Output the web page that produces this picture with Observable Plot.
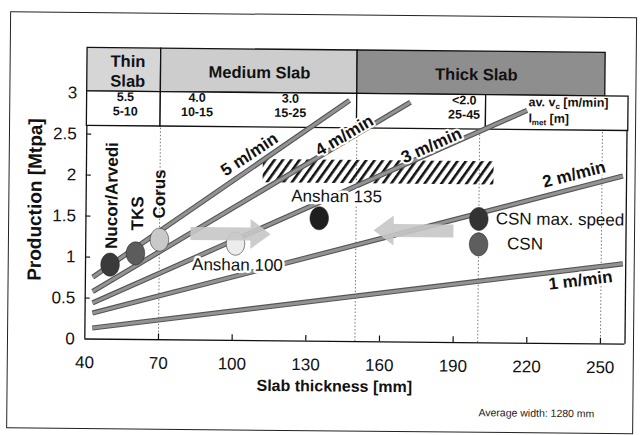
<!DOCTYPE html>
<html><head><meta charset="utf-8">
<script src="https://cdn.jsdelivr.net/npm/d3@7"></script>
<script src="https://cdn.jsdelivr.net/npm/@observablehq/plot@0.6"></script>
<style>
html,body{margin:0;padding:0;background:#fff;overflow:hidden;width:641px;height:435px}
#wrap{position:absolute;left:0;top:0;width:641px;height:435px;transform:rotate(0.55deg);transform-origin:84.3px 338.5px}
#chart{position:absolute;left:0;top:0}
#border{position:absolute;left:7px;top:12px;width:627px;height:417px;border:1.5px solid #222;box-sizing:border-box;pointer-events:none}
</style></head><body>
<div id="wrap"><div id="chart"></div><div id="border"></div></div>
<script>
// ---------- data ----------
const thicknessTicks = [40, 70, 100, 130, 160, 190, 220, 250];
const productionTicks = [0, 0.5, 1, 1.5, 2, 2.5, 3];

const speedLabels = ["5 m/min", "4 m/min", "3 m/min", "2 m/min", "1 m/min"];
const speedStartThickness = [43, 43, 43, 43, 43];
const speedStartProduction = [0.755, 0.58, 0.44, 0.317, 0.135];
const speedEndThickness = [146.9, 171.7, 219.2, 258.5, 258.8];
const speedEndProduction = [2.94, 2.926, 2.84, 2.05, 0.98];
const speedLabelThickness = [106.3, 144.9, 180.4, 238.6, 241.6];
const speedLabelProduction = [2.27, 2.512, 2.40, 2.063, 0.772];
const speedLabelAngle = [-34, -31, -24.5, -15, -7.5];

const plantNames = ["Nucor/Arvedi", "TKS", "Corus", "Anshan 100", "Anshan 135", "CSN max. speed", "CSN"];
const plantThickness = [50, 60.3, 70, 101, 135, 200, 200];
const plantProduction = [0.91, 1.05, 1.22, 1.18, 1.50, 1.51, 1.20];
const plantLabelThickness = [50.5, 61.1, 69.9, 101.9, 142, 206.9, 211.6];
const plantLabelProduction = [1.102, 1.33, 1.478, 0.92, 1.767, 1.513, 1.21];

const categoryNames = ["Thin\nSlab", "Medium Slab", "Thick Slab"];
const categoryFrom = [40, 70, 150];
const categoryTo = [70, 150, 251];
const categoryLabelThickness = [56.5, 110.1, 198.4];
const headerBottom = 3.02, headerTop = 3.55, rowBottom = 2.6;

const castingSpeeds = ["5.5", "4.0", "3.0", "<2.0"];
const metLengths = ["5-10", "10-15", "15-25", "25-45"];
const specThickness = [55.6, 84.8, 122.8, 193.6];
const cellFrom = [40, 70, 150, 202.5];
const cellTo = [70, 150, 202.5, 260.5];
const legendCell = ["av. vc [m/min]", "lmet [m]"];
const legendThickness = 219.8;

const targetThickness = [112, 206];
const targetProduction = [1.925, 2.21];

const arrowTail = [82.6, 189.7];
const arrowTip = [115.2, 157.2];
const arrowProduction = [1.30, 1.36];

const gridThickness = [70, 150, 200, 250];

// ---------- styles ----------
const plantFills = ["#3a3a3a", "#5c5c5c", "#c9c9c9", "#ececec", "#1f1f1f", "#333333", "#5e5e5e"];
const headerFills = ["#d6d6d6", "#cdcdcd", "#8e8e8e"];
const W = 641, H = 435, mL = 84.3, mR = 16.5, mT = 47.4, mB = 96.5;
const pxPerMm = (W - mL - mR) / 220;
const headPx = 19;
const font = "Arial, 'Liberation Sans', Helvetica, sans-serif";

// ---------- tables ----------
const speeds = speedLabels.map((s, i) => ({s, x1: speedStartThickness[i], y1: speedStartProduction[i], x2: speedEndThickness[i], y2: speedEndProduction[i], lx: speedLabelThickness[i], ly: speedLabelProduction[i], a: speedLabelAngle[i]}));
const plants = plantNames.map((name, i) => ({name, t: plantThickness[i], p: plantProduction[i], lt: plantLabelThickness[i], lp: plantLabelProduction[i]}));
const cats = categoryNames.map((name, i) => ({name, x1: categoryFrom[i], x2: categoryTo[i], lx: categoryLabelThickness[i]}));
const cells = cellFrom.map((x1, i) => ({x1, x2: cellTo[i]}));
const specs = castingSpeeds.map((v, i) => ({v, l: metLengths[i], x: specThickness[i]}));
const arrows = arrowTail.map((t, i) => {
  const dir = Math.sign(arrowTip[i] - t);
  return {t, base: arrowTip[i] - dir * headPx / pxPerMm, p: arrowProduction[i], dir};
});

const ellipseSymbol = {draw(ctx, size) {
  const r = Math.sqrt(size / Math.PI), rx = r * 0.9, ry = r * 1.12, c = 0.5523;
  ctx.moveTo(rx, 0);
  ctx.bezierCurveTo(rx, c * ry, c * rx, ry, 0, ry);
  ctx.bezierCurveTo(-c * rx, ry, -rx, c * ry, -rx, 0);
  ctx.bezierCurveTo(-rx, -c * ry, -c * rx, -ry, 0, -ry);
  ctx.bezierCurveTo(c * rx, -ry, rx, -c * ry, rx, 0);
  ctx.closePath();
}};
const headRight = {draw(ctx) { ctx.moveTo(-1, -15); ctx.lineTo(headPx, 0); ctx.lineTo(-1, 15); ctx.closePath(); }};
const headLeft = {draw(ctx) { ctx.moveTo(1, -15); ctx.lineTo(-headPx, 0); ctx.lineTo(1, 15); ctx.closePath(); }};

const plot = Plot.plot({
  width: W, height: H,
  marginLeft: mL, marginRight: mR, marginTop: mT, marginBottom: mB,
  style: {fontFamily: font, fontSize: "17px", color: "#111", background: "transparent", overflow: "visible"},
  x: {domain: [40, 260], ticks: thicknessTicks, tickSize: 0, tickPadding: 17, tickFormat: d => String(d), label: null},
  y: {domain: [0, headerTop], ticks: productionTicks, tickSize: 0, tickPadding: 10, tickFormat: d => String(d), label: null},
  color: {domain: plantNames, range: plantFills},
  marks: [
    // header table
    ...cats.map((c, i) => Plot.rect([c], {x1: "x1", x2: "x2", y1: () => headerBottom, y2: () => headerTop, fill: headerFills[i], stroke: "#111", strokeWidth: 1.3})),
    Plot.rect(cells, {x1: "x1", x2: "x2", y1: () => rowBottom, y2: () => headerBottom, fill: "white", stroke: "#111", strokeWidth: 1.3}),
    // grid + frame
    Plot.ruleX(gridThickness, {y1: 0, y2: rowBottom, stroke: "#555", strokeWidth: 0.8, strokeDasharray: "1.5,2"}),
    Plot.ruleX([40, 260], {y1: 0, y2: rowBottom, stroke: "#111", strokeWidth: 1.3}),
    Plot.ruleY([0], {x1: 40, x2: 260, stroke: "#111", strokeWidth: 1.3}),
    Plot.ruleX(thicknessTicks.slice(1), {y1: 0, y2: 0.07, stroke: "#111", strokeWidth: 1.2}),
    Plot.ruleY(productionTicks.slice(1, 6), {x1: 40, x2: 42, stroke: "#111", strokeWidth: 1.2}),
    // target band (hatched)
    Plot.rect([0], {x1: () => targetThickness[0], x2: () => targetThickness[1], y1: () => targetProduction[0], y2: () => targetProduction[1], fill: "url(#hatch)"}),
    // speed lines
    Plot.link(speeds, {x1: "x1", y1: "y1", x2: "x2", y2: "y2", stroke: "#555", strokeWidth: 5.2}),
    Plot.link(speeds, {x1: "x1", y1: "y1", x2: "x2", y2: "y2", stroke: "#939393", strokeWidth: 3}),
    // plants
    Plot.dot(plants, {x: "t", y: "p", r: 10.3, symbol: ellipseSymbol, fill: "name", stroke: "#222", strokeWidth: 0.9, strokeOpacity: 0.6}),
    // arrows
    Plot.link(arrows, {x1: "t", x2: "base", y1: "p", y2: "p", stroke: "#c6c6c6", strokeWidth: 13, strokeOpacity: 0.9}),
    Plot.dot(arrows.filter(d => d.dir > 0), {x: "base", y: "p", symbol: headRight, fill: "#c6c6c6", fillOpacity: 0.9}),
    Plot.dot(arrows.filter(d => d.dir < 0), {x: "base", y: "p", symbol: headLeft, fill: "#c6c6c6", fillOpacity: 0.9}),
    // header texts
    Plot.text(cats, {x: "lx", y: () => (headerBottom + headerTop) / 2 - 0.005, text: "name", fontWeight: "bold", fontSize: 16.5, lineHeight: 1.2, fill: "#111"}),
    Plot.text(specs, {x: "x", y: () => 2.955, text: "v", fontWeight: "bold", fontSize: 12.5, fill: "#111"}),
    Plot.text(specs, {x: "x", y: () => 2.78, text: "l", fontWeight: "bold", fontSize: 12.5, fill: "#111"}),
    Plot.text([legendCell[0]], {x: () => legendThickness, y: () => 2.94, text: d => d, textAnchor: "start", fontWeight: "bold", fontSize: 12.5, fill: "#111"}),
    Plot.text([legendCell[1]], {x: () => legendThickness, y: () => 2.74, text: d => d, textAnchor: "start", fontWeight: "bold", fontSize: 12.5, fill: "#111"}),
    // speed labels
    Plot.text(speeds, {x: "lx", y: "ly", text: "s", rotate: "a", fontWeight: "bold", fontSize: 17, fill: "#111", stroke: "white", strokeWidth: 4}),
    // plant labels
    Plot.text(plants.slice(0, 3), {x: "lt", y: "lp", text: "name", rotate: -90, textAnchor: "start", fontWeight: "bold", fontSize: 17, fill: "#111"}),
    Plot.text(plants.slice(3, 5), {x: "lt", y: "lp", text: "name", fontSize: 17, fill: "#111", stroke: "white", strokeWidth: 5}),
    Plot.text(plants.slice(5), {x: "lt", y: "lp", text: "name", textAnchor: "start", fontSize: 17, fill: "#111"}),
    // axis titles and note
    Plot.text(["Production [Mtpa]"], {frameAnchor: "left", dx: -50.9, y: () => 1.695, text: d => d, rotate: -90, textAnchor: "middle", lineAnchor: "middle", fontWeight: "bold", fontSize: 19, fill: "#111"}),
    Plot.text(["Slab thickness [mm]"], {x: () => 141.8, frameAnchor: "bottom", dy: 45, text: d => d, textAnchor: "middle", lineAnchor: "middle", fontWeight: "bold", fontSize: 16, fill: "#111"}),
    Plot.text(["Average width: 1280 mm"], {x: () => 200.6, frameAnchor: "bottom", dy: 70, text: d => d, textAnchor: "start", lineAnchor: "middle", fontSize: 10.5, fill: "#222"})
  ]
});

plot.insertAdjacentHTML("afterbegin", '<defs><pattern id="hatch" patternUnits="userSpaceOnUse" width="6.8" height="6.8" patternTransform="rotate(35)"><rect width="2.6" height="6.8" fill="#111"/></pattern></defs>');
plot.querySelectorAll("text").forEach(t => {
  if (t.textContent === "av. vc [m/min]") t.innerHTML = 'av. v<tspan font-size="8" dy="2.5">c</tspan><tspan dy="-2.5"> [m/min]</tspan>';
  if (t.textContent === "lmet [m]") t.innerHTML = 'l<tspan font-size="8" dy="2.5">met</tspan><tspan dy="-2.5"> [m]</tspan>';
});
document.getElementById("chart").append(plot);
</script>
</body></html>
